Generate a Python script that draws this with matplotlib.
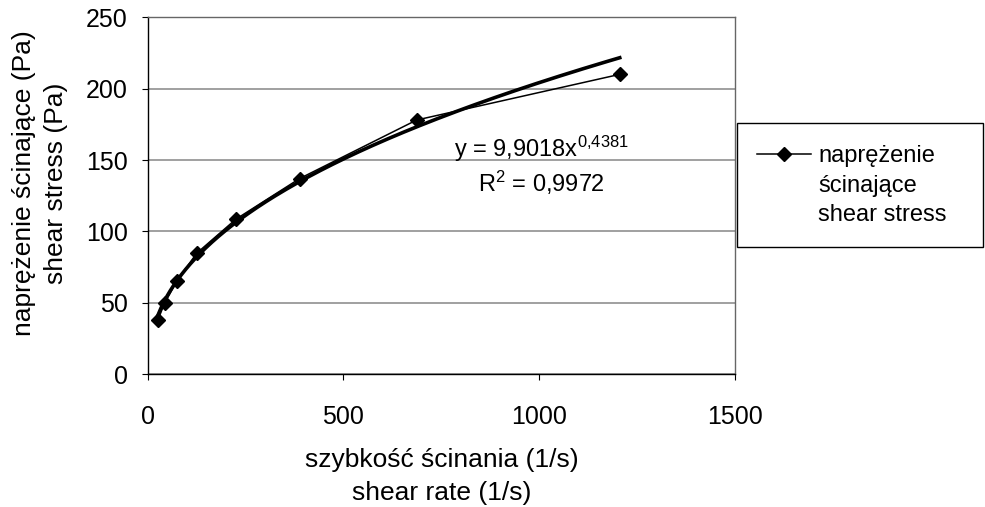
import numpy as np
import matplotlib
matplotlib.use("Agg")
import matplotlib.pyplot as plt
from matplotlib.lines import Line2D
from matplotlib.patches import Rectangle

plt.rcParams['font.family'] = ['Liberation Sans', 'DejaVu Sans']
plt.rcParams['mathtext.fontset'] = 'custom'
plt.rcParams['mathtext.rm'] = 'Liberation Sans'
plt.rcParams['mathtext.it'] = 'Liberation Sans:italic'

shear_rate = [26, 43, 74, 125, 225, 388, 687, 1206]
shear_stress = [38, 49.7, 65, 84.7, 108.5, 137, 178, 210]

# power trendline shown on the chart
fit_a = 9.9018
fit_b = 0.4381

x_ticks = [0, 500, 1000, 1500]
y_ticks = [0, 50, 100, 150, 200, 250]
legend_lines = ['naprężenie', 'ścinające', 'shear stress']

fig = plt.figure(figsize=(9.85, 5.07), dpi=100)
ax = fig.add_axes([0.150, 0.262, 0.596, 0.704])

data_line, = ax.plot(shear_rate, shear_stress, color='black', lw=1.1,
                     marker='D', markersize=7, zorder=3)

xf = np.linspace(shear_rate[0], shear_rate[-1], 300)
ax.plot(xf, fit_a * xf ** fit_b, color='black', lw=2.6, zorder=2)

ax.set_xlim(0, 1500)
ax.set_ylim(0, 250)
ax.set_xticks(x_ticks)
ax.set_yticks(y_ticks)
ax.yaxis.grid(True, color='#999999', lw=1.3)
ax.set_axisbelow(True)
for s in ax.spines.values():
    s.set_color('#666666')
    s.set_linewidth(1.0)
ax.spines['left'].set_color('black')
ax.spines['bottom'].set_color('black')
ax.tick_params(axis='x', direction='out', length=4, pad=18, labelsize=18)
ax.tick_params(axis='y', direction='out', length=4.5, pad=10, labelsize=18)

# multi-line baseline alignment uses the last line
fig.text(0.5 * (148 + 735) / 985, 1 - 500 / 507,
         'szybkość ścinania (1/s)\nshear rate (1/s)', fontsize=19,
         ha='center', va='baseline', linespacing=1.45)
fig.text(40 / 985, 1 - 183 / 507,
         'naprężenie ścinające (Pa)\nshear stress (Pa)', fontsize=19,
         ha='center', va='center', rotation=90, linespacing=1.45)

ax.text(0.671, 0.63, r'y = 9,9018x$^{\mathrm{0{,}4381}}$', transform=ax.transAxes,
        fontsize=17, ha='center', va='center')
ax.text(0.671, 0.535, r'R$^{\mathrm{2}}$ = 0,9972', transform=ax.transAxes,
        fontsize=17, ha='center', va='center')

# legend: first row carries the series handle, the other rows only text
blank = Line2D([], [], color='none')
leg = fig.legend([data_line, blank, blank], legend_lines,
                 loc='upper left', bbox_to_anchor=(757 / 985, 1 - 145 / 507),
                 fontsize=17, frameon=False, handlelength=2.3,
                 handletextpad=0.3, borderpad=0, borderaxespad=0,
                 labelspacing=0.32)
fig.add_artist(Rectangle((737 / 985, 1 - 247 / 507), 246 / 985, 124 / 507,
                         transform=fig.transFigure, fill=False,
                         edgecolor='black', lw=1.0))

fig.savefig('out.png', dpi=100)
